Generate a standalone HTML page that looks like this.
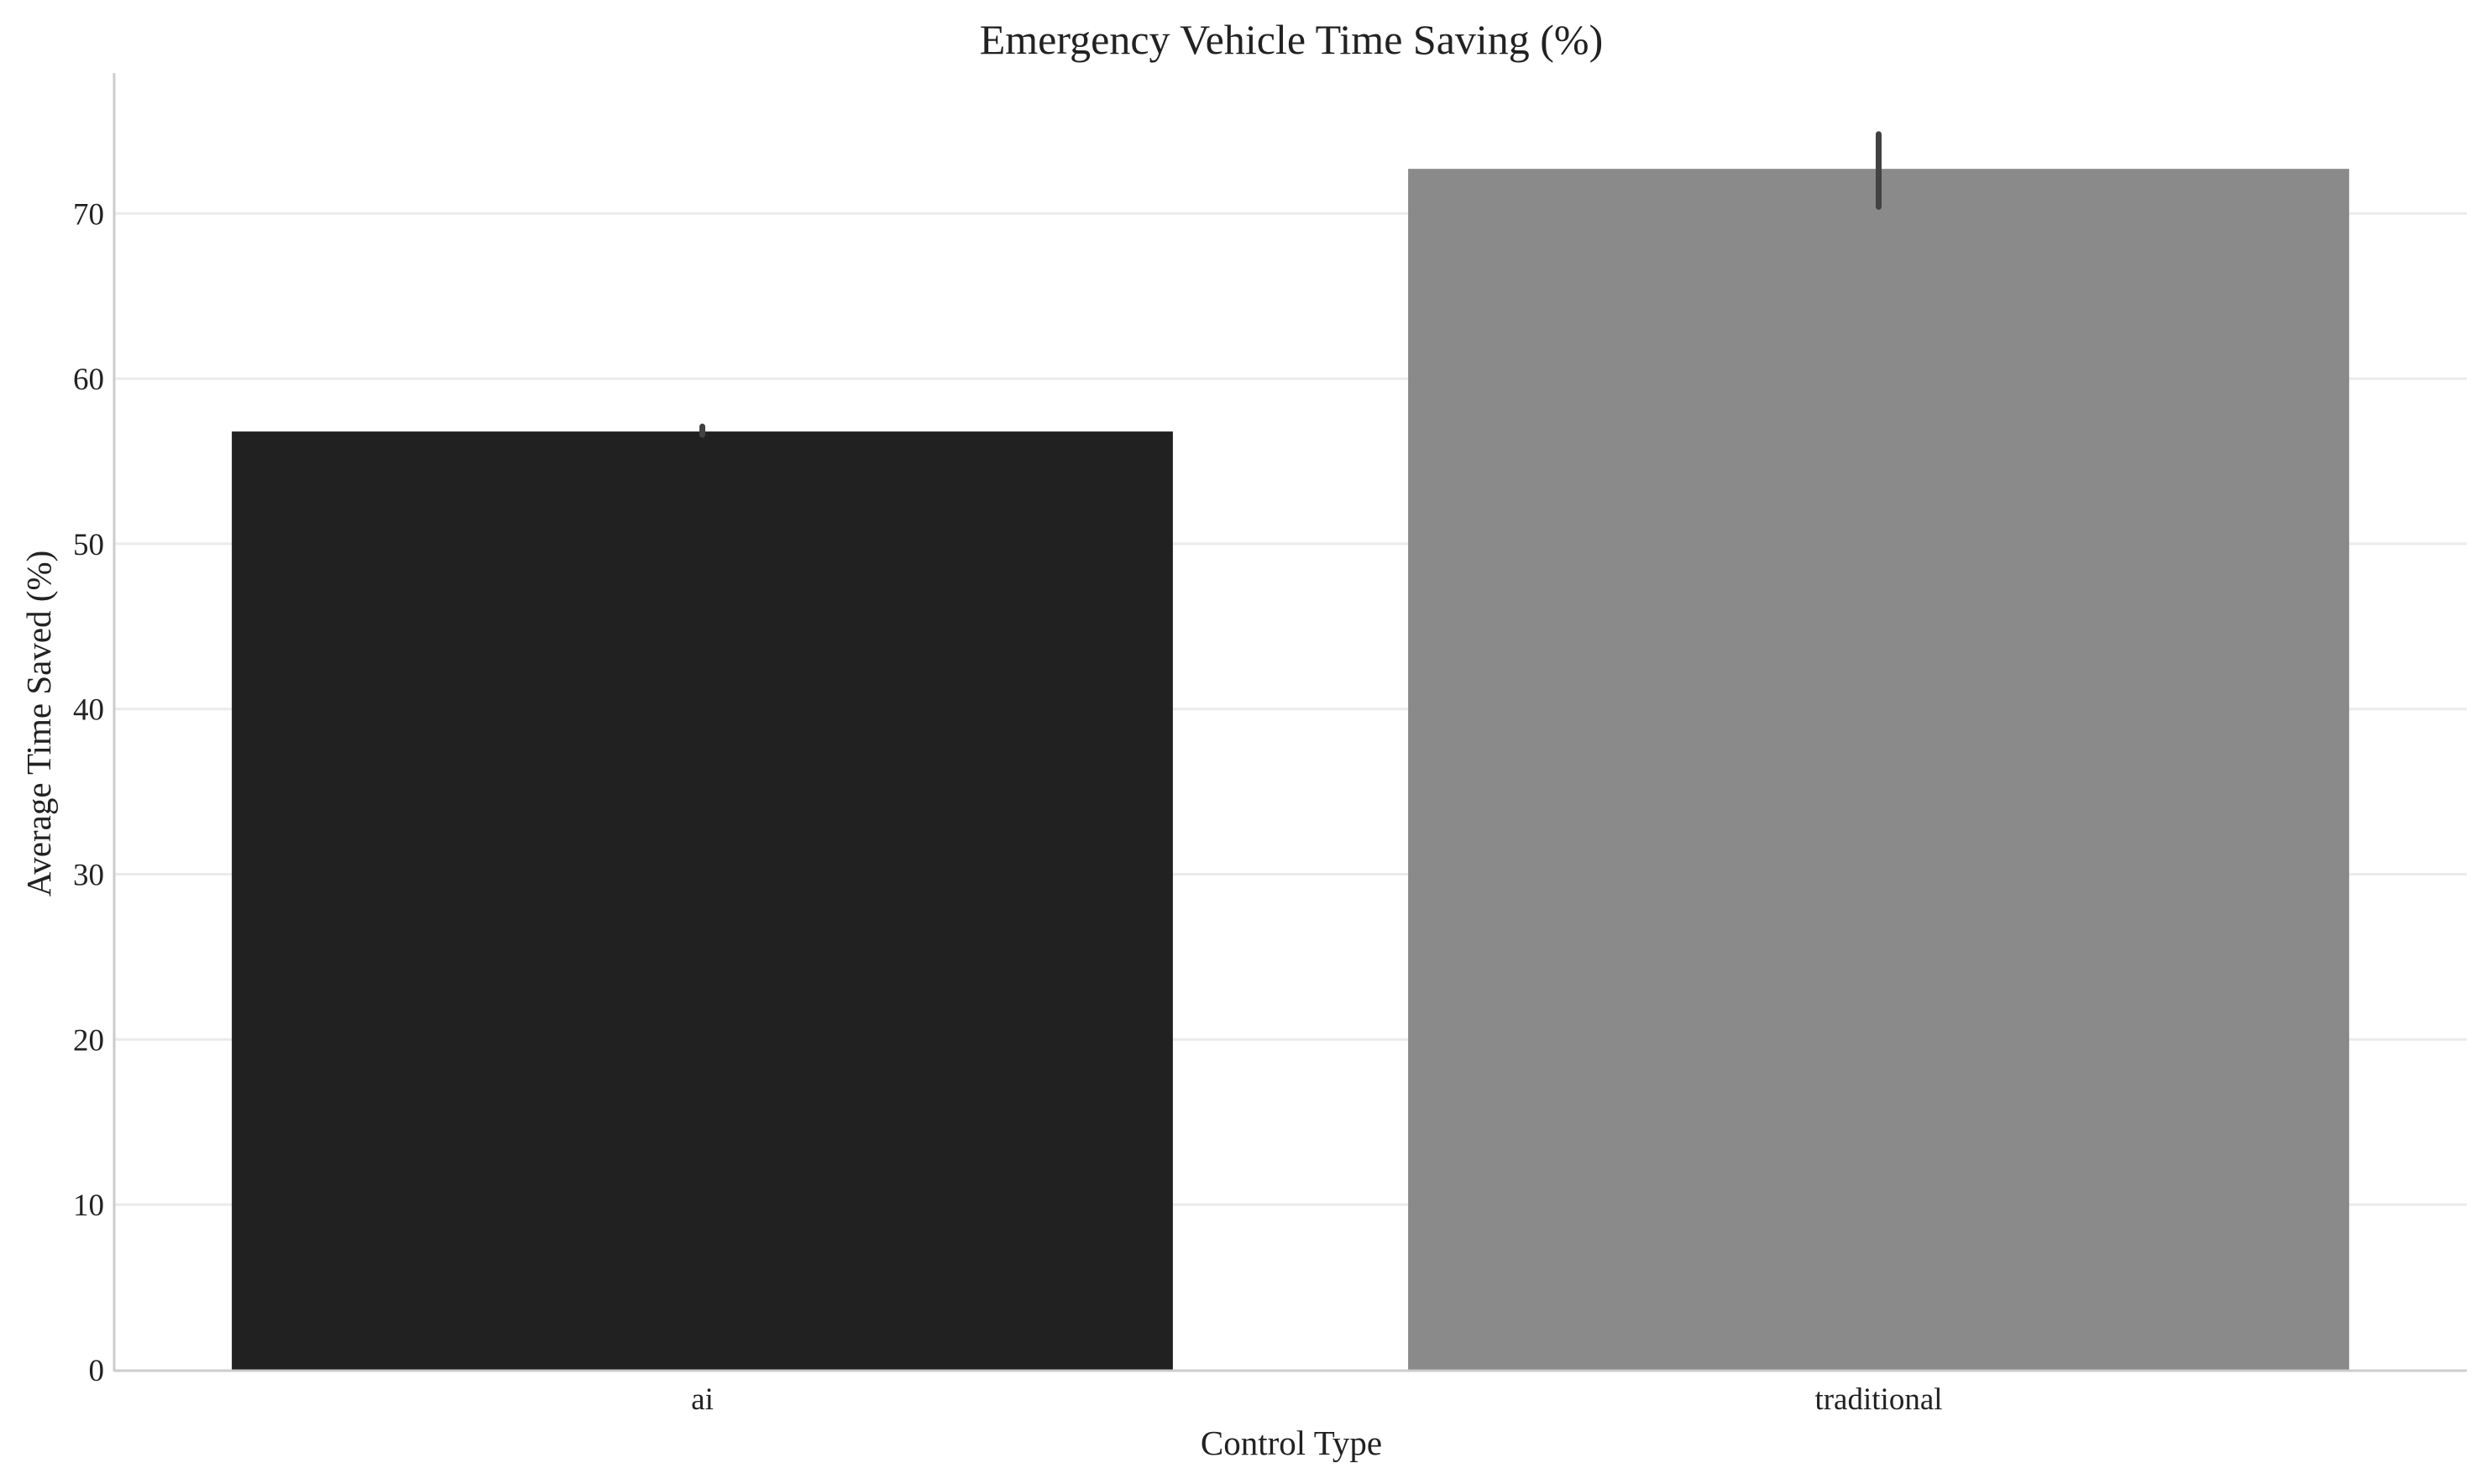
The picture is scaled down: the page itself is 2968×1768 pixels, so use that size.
<!DOCTYPE html>
<html><head><meta charset="utf-8"><style>
html,body{margin:0;padding:0;background:#fff;}
svg{display:block;font-family:"Liberation Serif",serif;}
</style></head><body>
<svg id="chart" width="2968" height="1768" viewBox="0 0 2968 1768" xmlns="http://www.w3.org/2000/svg">
<rect width="2968" height="1768" fill="#fff"/>
<g id="grid"></g>
<g id="bars"></g>
<g id="axes"></g>
<text x="1538" y="64" font-size="50" text-anchor="middle" fill="#222">Emergency Vehicle Time Saving (%)</text>
<text x="1538" y="1733" font-size="41" text-anchor="middle" fill="#222">Control Type</text>
<text x="0" y="0" font-size="41" text-anchor="middle" fill="#222" transform="translate(60,862) rotate(-90)">Average Time Saved (%)</text>
</svg>
<script>
const categories = ["ai", "traditional"];
const values = [56.8, 72.7];
const errLow = [56.6, 70.4];
const errHigh = [57.1, 74.8];
const yTicks = [0, 10, 20, 30, 40, 50, 60, 70];
const colors = ["#212121", "#8a8a8a"];

const SVGNS = "http://www.w3.org/2000/svg";
const plotLeft = 136, plotRight = 2938, plotBase = 1632, yMax = 78.5, plotTop = 87;
const yScale = v => plotBase - v * (plotBase - plotTop) / yMax;
const bandW = (plotRight - plotLeft) / categories.length;
const xScale = i => plotLeft + bandW * (i + 0.5);
const barW = bandW * 0.8;
function mk(tag, attrs, parent) {
  const e = document.createElementNS(SVGNS, tag);
  for (const k in attrs) e.setAttribute(k, attrs[k]);
  parent.appendChild(e);
  return e;
}
const gridG = document.getElementById("grid");
const barsG = document.getElementById("bars");
const axesG = document.getElementById("axes");
yTicks.forEach(t => {
  if (t > 0) {
    const l = mk("line", {x1: plotLeft, x2: plotRight, y1: yScale(t), y2: yScale(t), stroke: "#ebebeb", "stroke-width": 3}, gridG);
    
    
  }
  const tx = mk("text", {x: plotLeft - 12, y: yScale(t) + 13, "font-size": 37, "text-anchor": "end", fill: "#222"}, axesG);
  tx.textContent = t;
  
  
});
categories.forEach((c, i) => {
  const r = mk("rect", {x: xScale(i) - barW / 2, y: yScale(values[i]), width: barW, height: plotBase - yScale(values[i]), fill: colors[i]}, barsG);
  
  
  const e = mk("line", {x1: xScale(i), x2: xScale(i), y1: yScale(errLow[i]), y2: yScale(errHigh[i]), stroke: "#424242", "stroke-width": 7, "stroke-linecap": "round"}, barsG);
  
  
  const t = mk("text", {x: xScale(i), y: 1679, "font-size": 37, "text-anchor": "middle", fill: "#222"}, axesG);
  t.textContent = c;
  
  
});
const ys = mk("line", {x1: plotLeft, x2: plotLeft, y1: plotTop, y2: plotBase + 2, stroke: "#cccccc", "stroke-width": 3}, axesG);


const xs = mk("line", {x1: plotLeft, x2: plotRight, y1: plotBase + 1, y2: plotBase + 1, stroke: "#cccccc", "stroke-width": 3}, axesG);


</script>
</body></html>
